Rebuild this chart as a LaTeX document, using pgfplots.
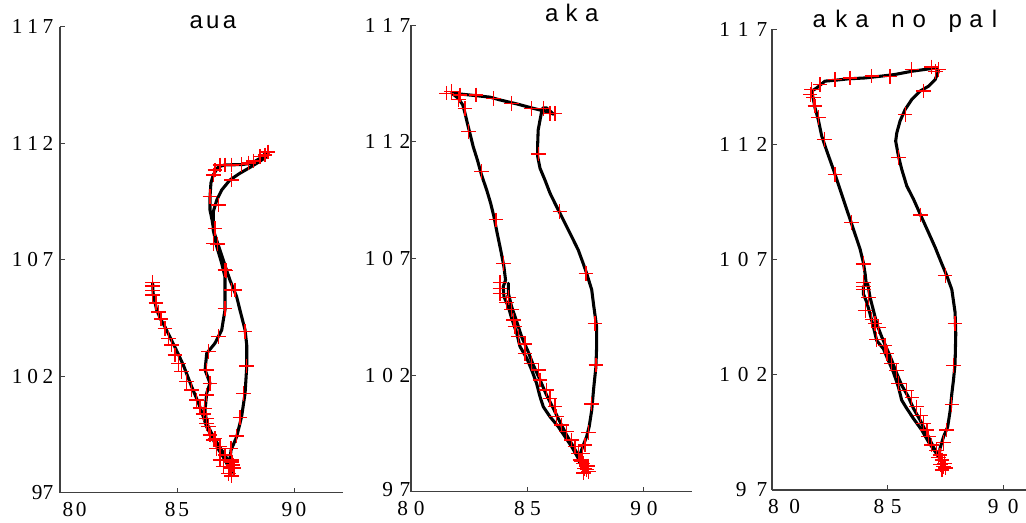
\documentclass[border=0pt]{standalone}
\usepackage{pgfplots}
\pgfplotsset{compat=1.18}
\usepackage{fontspec}
\setmainfont{Liberation Serif}
\newfontfamily\titlefont{Liberation Sans}
\definecolor{mkred}{RGB}{255,0,0}
\newcommand{\tk}{\fontsize{16}{16}\selectfont}
\pgfplotsset{
  panel/.style={
    scale only axis, anchor=south west,
    axis x line=bottom, axis y line=left,
    every outer x axis line/.append style={-},
    every outer y axis line/.append style={-},
    axis line style={-, draw=black!75, line width=0.9pt},
    tick style={draw=black!75, line width=0.7pt},
    tick align=inside, major tick length=3.5pt,
    ymin=97, ymax=117, xmin=80,
    xtick={80,85,90}, ytick={97,102,107,112,117},
    ticklabel style={font=\tk},
    xticklabel style={yshift=-3.7pt},
    title style={anchor=base, font=\titlefont\fontsize{18}{18}\selectfont},
  },
  mk/.style={only marks, mark=+, mkred, mark size=5.5pt, mark options={solid, draw=mkred, line width=0.95pt}},
  ln/.style={black, no marks, line width=2.3pt, line join=round, line cap=round},
}
\begin{document}
\begin{tikzpicture}
\useasboundingbox (0,0) rectangle (769.5pt,391.5pt);

% ---------------- panel 1: aua ----------------
\begin{axis}[panel, at={(45pt,21.975pt)}, width=212pt, height=349.5pt, xmax=92.08,
  xticklabels={\hspace{22pt}8\hspace{2pt}0, 8\hspace{2pt}5, 9\hspace{2.5pt}0},
  yticklabels={97, 1\hspace{3.5pt}0\hspace{3.5pt}2, 1\hspace{3.5pt}0\hspace{3.5pt}7, 1\hspace{3.5pt}1\hspace{3.5pt}2, 1\hspace{3.5pt}1\hspace{3.5pt}7},
  yticklabel style={xshift=-1.5pt},
  title={a\hspace{2.5pt}u\hspace{2.5pt}a}, title style={at={(0.541,0.9785)}}]
\addplot[mk] coordinates {
(83.96,106.01) (83.96,105.87) (83.96,105.67) (83.96,105.49) (84.10,105.14) (84.20,104.76)
(84.32,104.45) (84.49,104.05) (84.63,103.62) (84.77,103.34) (84.91,102.91) (85.06,102.55)
(85.20,102.19) (85.41,101.76) (85.63,101.41) (85.84,100.98) (85.98,100.64) (86.12,100.38)
(86.27,99.97) (86.41,99.48) (86.55,99.26) (86.70,98.90) (86.84,98.40) (86.98,98.12)
(87.19,97.83) (87.34,97.72) (87.35,98.32) (87.39,98.19) (87.26,98.06) (87.44,98.06)
(87.31,98.91) (87.55,99.43) (87.69,100.22) (87.83,101.27) (87.98,102.44) (87.91,103.91)
(87.48,105.70) (87.09,106.53) (86.72,107.67) (86.62,108.35) (86.41,109.70) (86.55,110.64)
(86.62,110.85) (86.84,111.07) (87.05,111.07) (87.34,111.07) (87.76,111.08) (88.05,111.15)
(88.26,111.24) (88.55,111.42) (88.76,111.49) (88.89,111.62)
(87.34,110.42) (86.76,109.35) (86.55,107.70) (87.05,106.56) (87.34,105.70) (87.05,104.91)
(86.76,103.70) (86.34,103.05) (86.27,102.27) (86.41,101.70) (86.27,101.19) (86.17,100.62)
(86.27,100.19) (86.34,99.83) (86.62,99.33) (86.84,98.97) (87.05,98.62) (87.34,98.40)
};
\addplot[ln] coordinates {
(83.96,106.01) (83.97,105.70) (83.99,105.49) (84.06,105.18) (84.13,104.84) (84.32,104.41)
(84.49,104.11) (84.70,103.68) (84.91,103.25) (85.09,102.87) (85.27,102.48) (85.45,102.01)
(85.63,101.54) (85.81,101.11) (85.98,100.68) (86.13,100.25) (86.27,99.82) (86.45,99.48)
(86.62,99.13) (86.79,98.83) (86.98,98.53) (87.16,98.19) (87.34,97.83)
(87.22,98.12) (87.31,98.83) (87.55,99.40) (87.76,100.26) (87.91,101.27) (87.98,102.41)
(87.98,103.34) (87.91,103.98) (87.69,104.84) (87.55,105.41) (87.26,106.13) (87.09,106.64)
(86.92,107.16) (86.75,107.67) (86.58,108.19) (86.50,108.70) (86.41,109.13) (86.41,109.69)
(86.45,110.29) (86.55,110.64) (86.76,110.98) (87.05,111.07) (87.76,111.08) (88.19,111.14)
(88.55,111.35) (88.76,111.54) (88.90,111.59)
(88.83,111.42) (88.41,111.14) (88.05,110.92) (87.69,110.71) (87.26,110.42) (86.91,109.99)
(86.70,109.56) (86.55,109.06) (86.55,108.27) (86.70,107.56) (86.91,106.85) (87.05,106.27)
(87.05,105.70) (87.05,104.84) (86.91,103.98) (86.62,103.41) (86.27,102.98) (86.20,102.27)
(86.41,101.70) (86.27,101.27) (86.20,100.55) (86.27,99.98) (86.55,99.40) (86.91,98.83)
(87.26,98.26) (87.35,98.06)
};
\end{axis}

% ---------------- panel 2: aka ----------------
\begin{axis}[panel, at={(308.25pt,22.725pt)}, width=210.5pt, height=350pt, xmax=92.05,
  xticklabels={8\hspace{4.5pt}0, 8\hspace{4pt}5, 9\hspace{4.5pt}0},
  yticklabels={\raisebox{3.5pt}{9\hspace{5pt}7}, 1\hspace{5pt}0\hspace{5pt}2, 1\hspace{5pt}0\hspace{5pt}7, 1\hspace{5pt}1\hspace{5pt}2, \raisebox{-3pt}{1\hspace{5pt}1\hspace{5pt}7}},
  yticklabel style={xshift=3pt},
  title={a\hspace{5.5pt}k\hspace{5.5pt}a}, title style={at={(0.5725,0.9908)}}]
\addplot[mk] coordinates {
(81.53,114.08) (81.75,114.15) (82.10,114.00) (82.79,114.00) (83.53,113.86) (84.32,113.65)
(85.18,113.43) (85.68,113.43) (85.97,113.22) (86.18,113.22) (82.03,113.82) (82.32,113.43)
(82.46,112.43) (83.03,110.72) (83.65,108.65) (83.96,106.79) (85.46,111.47) (86.39,109.00)
(87.51,106.36) (87.90,104.22) (87.94,102.43) (87.76,100.76) (87.61,99.53) (87.47,99.00)
(87.37,98.65)
(83.82,105.96) (83.82,105.72) (83.82,105.50) (84.18,105.33) (84.11,105.10) (84.32,104.82)
(84.39,104.36) (84.46,104.07) (84.61,103.64) (84.89,103.33) (84.89,102.93) (85.18,102.50)
(85.46,102.22) (85.54,101.79) (85.82,101.36) (85.97,101.00) (86.18,100.64) (86.25,100.21)
(86.47,99.86) (86.68,99.57) (86.90,99.22) (87.04,98.93) (87.18,98.65) (87.25,98.36)
(87.39,98.22) (87.51,98.07) (87.61,97.86) (87.45,98.00) (87.55,97.95) (87.40,97.80)
(87.60,98.10) (87.30,98.30)
};
\addplot[ln] coordinates {
(84.18,105.93) (84.18,105.50) (84.32,104.93) (84.54,104.29) (84.75,103.64) (85.03,103.00)
(85.25,102.43) (85.54,101.79) (85.82,101.14) (86.11,100.57) (86.39,100.00) (86.68,99.43)
(86.97,98.93) (87.25,98.43) (87.47,98.00) (87.50,97.86)
(87.39,98.07) (87.22,98.29) (87.25,98.57) (87.37,98.93) (87.54,99.36) (87.65,99.79)
(87.76,100.50) (87.85,101.50) (87.94,102.36) (87.97,103.22) (87.97,104.07) (87.85,104.93)
(87.76,105.65) (87.54,106.36) (87.39,106.79) (87.18,107.36) (86.90,107.93) (86.54,108.65)
(86.25,109.22) (85.97,109.79) (85.75,110.36) (85.54,110.86) (85.44,111.36) (85.44,111.93)
(85.46,112.50) (85.54,112.93) (85.61,113.29) (85.67,113.45) (85.82,113.45) (86.12,113.18)
(85.82,113.29) (85.25,113.43) (84.54,113.62) (83.82,113.79) (83.39,113.91) (82.82,113.97)
(82.24,114.03) (81.75,114.08)
(82.03,113.86) (82.22,113.58) (82.32,113.22) (82.42,112.79) (82.53,112.36) (82.67,111.79)
(82.85,111.22) (83.03,110.57) (83.25,109.93) (83.42,109.36) (83.56,108.79) (83.70,108.08)
(83.85,107.36) (83.99,106.64) (84.06,106.07) (83.96,105.79) (83.99,105.36) (84.18,104.93)
(84.32,104.43) (84.54,103.79) (84.68,103.22) (84.97,102.72) (85.18,102.22) (85.39,101.65)
(85.54,101.07) (85.68,100.64) (85.97,100.21) (86.32,99.79) (86.61,99.36) (86.90,98.93)
(87.18,98.43) (87.39,98.07) (87.50,97.86)
};
\end{axis}

% ---------------- panel 3: aka no pal ----------------
\begin{axis}[panel, at={(579pt,24pt)}, width=211.5pt, height=345.5pt, xmax=92.2,
  xticklabels={\hspace{18pt}8\hspace{8pt}0, 8\hspace{5pt}5, 9\hspace{7pt}0},
  yticklabels={\raisebox{-4pt}{9\hspace{7.5pt}7}, 1\hspace{6pt}0\hspace{6pt}2, 1\hspace{6pt}0\hspace{6pt}7, 1\hspace{6pt}1\hspace{6pt}2, \raisebox{-6pt}{1\hspace{6pt}1\hspace{6pt}7}},
  yticklabel style={xshift=0pt},
  title={a\hspace{7pt}k\hspace{6pt}a\hspace{17pt}n\hspace{6pt}o\hspace{17pt}p\hspace{5.5pt}a\hspace{7pt}l},
  title style={at={(0.4716,0.986)}}]
\addplot[mk] coordinates {
(81.72,114.39) (81.65,114.17) (81.79,114.03) (82.08,114.61) (82.73,114.82) (83.38,114.89)
(84.32,114.97) (85.11,114.94) (86.05,115.26) (86.91,115.37) (87.06,115.18) (87.20,115.26)
(81.86,113.67) (82.00,113.16) (82.26,112.23) (82.73,110.71) (83.45,108.61) (83.95,106.81)
(86.55,114.32) (85.76,113.31) (85.47,111.43) (86.41,108.94) (87.49,106.31) (87.92,104.22)
(87.85,102.41) (87.78,100.72) (87.56,99.60) (87.42,99.05)
(83.95,106.84) (83.95,106.02) (83.95,105.83) (83.95,105.69) (84.17,105.37) (84.03,104.79)
(84.32,104.39) (84.46,104.22) (84.60,104.07) (84.53,103.52) (84.89,103.28) (84.97,102.92)
(85.18,102.48) (85.40,102.19) (85.47,101.62) (85.83,101.33) (86.05,101.01) (86.26,100.61)
(86.41,100.25) (86.55,99.89) (86.70,99.60) (86.77,99.31) (86.91,98.95) (87.13,98.73)
(87.27,98.52) (87.35,98.30) (87.42,98.01) (87.35,97.87) (87.45,98.15) (87.30,98.10)
(87.50,97.95) (87.20,98.40)
};
\addplot[ln] coordinates {
(84.14,105.95) (84.24,105.37) (84.39,104.79) (84.53,104.22) (84.75,103.64) (84.97,103.13)
(85.18,102.63) (85.40,102.05) (85.61,101.55) (85.90,101.04) (86.12,100.54) (86.41,100.03)
(86.70,99.45) (86.98,98.87) (87.27,98.37) (87.42,98.08) (87.45,97.94)
(87.35,98.16) (87.23,98.44) (87.27,98.81) (87.42,99.31) (87.60,99.74) (87.71,100.46)
(87.78,101.19) (87.85,101.76) (87.92,102.48) (87.95,103.78) (87.92,104.72) (87.78,105.70)
(87.56,106.31) (87.35,106.81) (87.06,107.53) (86.77,108.18) (86.41,108.98) (86.12,109.63)
(85.83,110.20) (85.61,110.93) (85.47,111.50) (85.35,112.15) (85.40,112.51) (85.54,113.02)
(85.76,113.52) (86.05,113.96) (86.41,114.32) (86.77,114.53) (87.06,114.82) (87.20,115.18)
(87.13,115.32) (86.77,115.28) (86.05,115.18) (85.32,115.04) (84.75,114.97) (84.03,114.89)
(83.30,114.85) (82.73,114.79) (82.29,114.75) (81.94,114.46) (81.72,114.32)
(81.79,113.96) (81.86,113.59) (82.00,113.09) (82.15,112.37) (82.37,111.72) (82.65,110.93)
(82.94,110.06) (83.23,109.19) (83.52,108.33) (83.81,107.46) (83.95,106.88) (84.03,106.38)
(84.07,106.02) (83.95,105.80) (83.95,105.52) (84.10,105.15) (84.24,104.65) (84.39,104.07)
(84.53,103.49) (84.82,103.13) (85.03,102.63) (85.25,102.12) (85.47,101.47) (85.61,100.90)
(85.83,100.54) (86.12,100.10) (86.48,99.60) (86.77,99.09) (87.06,98.66) (87.35,98.23)
(87.45,97.94)
};
\end{axis}
\end{tikzpicture}
\end{document}
